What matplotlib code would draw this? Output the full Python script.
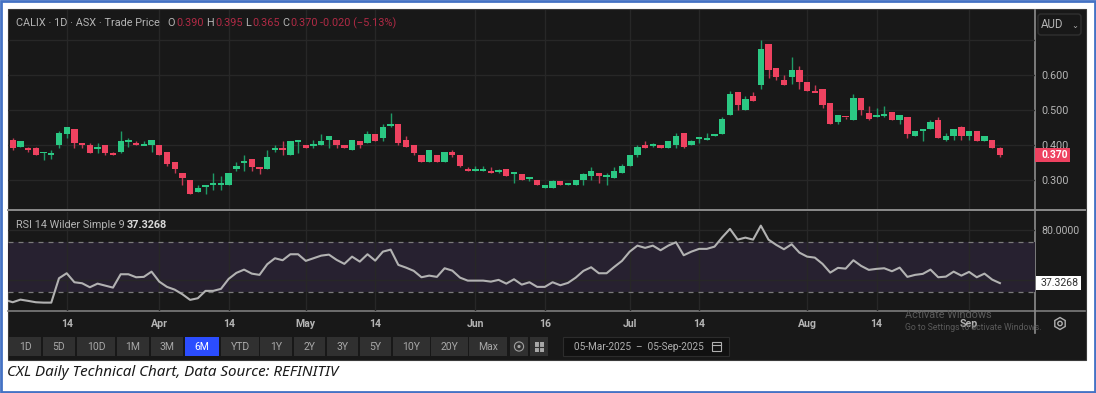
import numpy as np
import matplotlib
matplotlib.use("Agg")
import matplotlib.pyplot as plt
from matplotlib.patches import Rectangle, FancyBboxPatch, Circle, RegularPolygon

# daily candles
opens = [.415,.395,.39,.39,.375,.37,.40,.43,.445,.405,.40,.39,.40,.375,.38,.41,.4025,.40,.40,.40,
         .38,.35,.32,.30,.265,.28,.285,.285,.285,.33,.35,.36,.335,.33,.385,.39,.37,.41,.40,.40,
         .40,.415,.415,.40,.385,.41,.405,.43,.42,.455,.46,.415,.40,.37,.35,.37,.35,.38,.37,.33,
         .325,.325,.325,.325,.33,.32,.315,.305,.30,.275,.275,.295,.285,.285,.30,.31,.32,.31,.305,.32,
         .34,.37,.40,.40,.40,.39,.40,.435,.40,.42,.415,.425,.43,.485,.55,.50,.54,.57,.69,.62,
         .585,.595,.615,.58,.5525,.56,.52,.465,.4825,.47,.535,.49,.48,.485,.495,.47,.48,.425,.44,.445,
         .47,.415,.425,.45,.425,.44,.41,.415,.39]
closes = [.39,.41,.385,.37,.38,.375,.435,.45,.405,.40,.375,.39,.375,.37,.41,.41,.40,.40,.415,.37,
          .345,.33,.305,.26,.275,.285,.29,.29,.32,.34,.35,.335,.33,.365,.39,.385,.41,.41,.39,.40,
          .41,.425,.40,.39,.415,.40,.43,.41,.45,.46,.405,.395,.375,.35,.385,.35,.38,.37,.34,.325,
          .33,.33,.32,.325,.31,.32,.30,.305,.285,.285,.295,.285,.29,.30,.315,.325,.31,.31,.325,.34,
          .37,.395,.39,.40,.39,.41,.425,.395,.41,.42,.42,.43,.475,.545,.515,.53,.525,.675,.615,.595,
          .57,.615,.58,.555,.55,.515,.46,.485,.48,.535,.50,.475,.485,.485,.47,.485,.43,.44,.445,.465,
          .42,.425,.445,.425,.44,.41,.425,.39,.37]
highs = [.42,.41,.395,.395,.38,.385,.44,.45,.445,.405,.405,.405,.40,.38,.44,.42,.41,.41,.415,.40,
         .38,.35,.32,.30,.285,.285,.32,.31,.32,.35,.37,.36,.335,.385,.40,.41,.41,.41,.40,.415,
         .43,.425,.415,.40,.415,.41,.44,.43,.46,.49,.46,.425,.40,.37,.385,.37,.38,.385,.37,.335,
         .34,.34,.335,.33,.33,.32,.315,.305,.30,.285,.30,.295,.29,.30,.32,.335,.32,.32,.335,.345,
         .37,.40,.41,.405,.40,.41,.435,.435,.415,.42,.435,.43,.48,.555,.55,.54,.55,.70,.69,.62,
         .60,.65,.625,.58,.57,.56,.52,.485,.48,.545,.535,.51,.505,.51,.495,.485,.48,.44,.445,.47,
         .48,.435,.445,.455,.44,.44,.425,.415,.395]
lows = [.385,.395,.38,.37,.355,.36,.39,.42,.39,.39,.375,.375,.37,.37,.375,.395,.40,.40,.38,.37,
        .34,.32,.285,.26,.265,.26,.27,.27,.285,.325,.325,.325,.315,.33,.38,.37,.37,.375,.39,.39,
        .40,.39,.39,.39,.385,.39,.405,.41,.41,.45,.40,.395,.37,.35,.35,.35,.35,.365,.335,.325,
        .325,.325,.32,.32,.31,.29,.30,.295,.285,.275,.275,.285,.285,.285,.285,.30,.29,.285,.305,.32,
        .34,.365,.39,.395,.39,.39,.39,.39,.40,.405,.415,.425,.43,.485,.50,.50,.525,.56,.59,.585,
        .57,.575,.56,.555,.55,.505,.46,.46,.475,.47,.485,.47,.48,.48,.47,.46,.42,.425,.41,.445,
        .42,.41,.415,.415,.415,.41,.41,.39,.365]

# first value sits just off the first candle, line runs in from the left edge
rsi = [23.9,22,24.1,23.1,22,21.7,21.7,41.2,45.2,38,37.2,34,36.9,35.3,33.7,44.4,44.4,42,42.3,46.5,
       38.5,34.3,32.1,28.4,23.9,25.2,31.1,31.1,32.7,40.7,45.5,48.1,44.9,43.9,52.4,57.2,55.6,60.4,60.4,55.1,
       57.2,59.3,60.1,55.9,52.7,58.5,54.5,60.4,55.3,62.5,64.1,51.9,49.7,47.1,42,43.3,42.3,49.2,47.3,41.7,
       39.3,39.3,39.3,38.5,39.9,36.9,40.4,36.1,38,34.3,34.3,38,35.6,37.5,41.7,47.1,50,45.2,45.2,50.3,
       55.1,62.5,67.3,65.5,67.3,63.6,67.3,70,59.6,62.5,64.7,64.7,66.5,74,80.7,72.1,73.7,72.1,83.3,72.1,
       67.9,64.4,68.4,61.7,58.5,57.7,52.7,45.7,49.5,48.9,55.6,51.1,47.9,48.7,49.2,46.8,49.7,42.3,43.9,44.7,
       48.1,42,42.5,46.5,43.3,46.3,42,44.9,40.1,37.3]

tick_idx = [7, 19, 28, 38, 47, 60, 69, 80, 89, 103, 112, 124]
tick_labels = ["14", "Apr", "14", "May", "14", "Jun", "16", "Jul", "14", "Aug", "14", "Sep"]
price_ticks = [0.3, 0.4, 0.5, 0.6, 0.7]
price_tick_labels = ["0.300", "0.400", "0.500", "0.600", ""]
range_buttons = ["1D", "5D", "10D", "1M", "3M", "6M", "YTD", "1Y", "2Y", "3Y", "5Y", "10Y", "20Y", "Max"]

GREEN = "#2bc883"
RED = "#ee4260"
PANEL = "#181818"
GRID = "#272727"
TXT = "#b4b4b4"
W, H = 1096, 393

plt.rcParams["font.family"] = ["Roboto", "DejaVu Sans"]


def rect_axes(fig, x0, y0, x1, y1, **kw):
    # pixel box (y down) to figure fraction
    return fig.add_axes([x0 / W, 1 - y1 / H, (x1 - x0) / W, (y1 - y0) / H], **kw)


def px_text(fig, x, y, s, **kw):
    # text above every axes, placed in pixels
    return fig.text(x / W, 1 - y / H, s, va="center", zorder=5, **kw)


def main():
    assert len(opens) == len(closes) == len(highs) == len(lows) == len(rsi) - 1

    fig = plt.figure(figsize=(W / 100, H / 100), dpi=100, facecolor="white")

    # page chrome, in pixel coordinates
    bg = fig.add_axes([0, 0, 1, 1], zorder=0)
    bg.set_xlim(0, W)
    bg.set_ylim(H, 0)
    bg.axis("off")
    bg.add_patch(Rectangle((1, 1), W - 2, H - 2, fill=False, ec="#4472c4", lw=2))
    bg.add_patch(Rectangle((7.5, 8.5), 1078, 351, fc=PANEL, ec="#3a3a3a", lw=0.8))
    bg.plot([8, 1085], [210, 210], color="#8c8c8c", lw=1.4)
    bg.plot([8, 1085], [311, 311], color="#7c7c7c", lw=1.2)
    bg.plot([1035, 1035], [10, 333], color="#8c8c8c", lw=1.2)

    spans = [(9, 41), (43, 75), (77, 115), (117, 149), (151, 183), (185, 219), (221, 259),
             (260, 292), (294, 325), (327, 358), (360, 391), (393, 430), (431, 468), (469, 507)]
    for name, (a, b) in zip(range_buttons, spans):
        on = name == "6M"
        bg.add_patch(Rectangle((a, 337), b - a, 18.5, fc="#2b4dff" if on else "#303030", ec="none"))
        bg.text((a + b) / 2, 346.5, name, ha="center", va="center", fontsize=7.5,
                color="white" if on else "#a8a8a8")
    for a, b in [(510, 528), (530, 548)]:
        bg.add_patch(Rectangle((a, 337), b - a, 18.5, fc="#303030", ec="none"))
    bg.add_patch(Circle((519, 346.5), 4.6, fill=False, ec="#a0a0a0", lw=0.8))
    bg.add_patch(Circle((519, 346.5), 1.6, fc="#a0a0a0", ec="none"))
    bg.add_patch(Rectangle((534.5, 342), 9, 9.5, fc="#a8a8a8", ec="none"))
    bg.plot([539, 539], [342, 351.5], color="#303030", lw=0.8)
    bg.plot([534.5, 543.5], [346.7, 346.7], color="#303030", lw=0.8)

    bg.add_patch(Rectangle((563, 337), 166, 19, fc="#111111", ec="#2c2c2c", lw=0.8))
    bg.text(639, 346.5, "05-Mar-2025  –  05-Sep-2025", ha="center", va="center", fontsize=7.2, color="#b0b0b0")
    bg.add_patch(Rectangle((711.5, 342), 9, 9, fill=False, ec="#b0b0b0", lw=0.8))
    bg.plot([711.5, 720.5], [344.5, 344.5], color="#b0b0b0", lw=0.8)

    bg.add_patch(FancyBboxPatch((1038, 14), 43, 21, boxstyle="round,pad=0,rounding_size=3",
                                fc=PANEL, ec="#303030", lw=1))
    bg.text(1041, 24.5, "AUD", va="center", fontsize=8.3, color=TXT)
    bg.text(1075, 25.5, "⌄", ha="center", va="center", fontsize=6, color=TXT, family="DejaVu Sans")
    bg.add_patch(RegularPolygon((1060, 323.5), 6, radius=6, fill=False, ec="#b0b0b0", lw=1))
    bg.add_patch(Circle((1060, 323.5), 2.2, fill=False, ec="#b0b0b0", lw=1))

    bg.text(7, 372, "CXL Daily Technical Chart, Data Source: REFINITIV", va="center", fontsize=10.9,
            style="italic", color="#1a1a1a", family="Noto Sans")

    # price panel
    x = np.arange(len(opens))
    o, c, h, l = map(np.array, (opens, closes, highs, lows))
    up = c >= o
    colors = np.where(up, GREEN, RED)
    ax = rect_axes(fig, 8, 10, 1035, 209, zorder=2)
    ax.patch.set_alpha(0)
    ax.vlines(x, l, h, colors=np.where(up, "#1f9a66", "#c23a55"), lw=1)
    heights = np.maximum(np.abs(c - o), 0.005)
    bottoms = (o + c) / 2 - heights / 2
    ax.bar(x, heights, bottom=bottoms, width=0.82, color=colors, linewidth=0, zorder=3)
    ax.set_xlim(-0.61, 132.55)
    ax.set_ylim(0.216, 0.786)
    ax.set_xticks(tick_idx)
    ax.set_xticklabels([])
    ax.set_yticks(price_ticks)
    ax.set_yticklabels(price_tick_labels)
    ax.yaxis.tick_right()
    ax.tick_params(axis="both", length=0, colors=TXT, labelsize=7.8, pad=4.5)
    ax.grid(True, color=GRID, lw=1)
    ax.set_axisbelow(True)
    for s in ax.spines.values():
        s.set_visible(False)

    px_text(fig, 16, 23, "CALIX · 1D · ASX · Trade Price", fontsize=7.8, color=TXT)
    parts = [("O", TXT, 167), ("0.390", "#b02a45", 176), ("H", TXT, 206), ("0.395", "#b02a45", 215),
             ("L", TXT, 245), ("0.365", "#b02a45", 252), ("C", TXT, 282), ("0.370", "#b02a45", 290),
             ("-0.020 (−5.13%)", "#b02a45", 320)]
    for s, col, px in parts:
        px_text(fig, px, 23, s, fontsize=7.8, color=col)

    ax.add_patch(Rectangle((1.0, closes[-1] - 0.02), 35 / 1027, 0.04, transform=ax.get_yaxis_transform(),
                           fc=RED, ec="none", clip_on=False, zorder=5))
    ax.annotate("0.370", (1.0, closes[-1]), xycoords=ax.get_yaxis_transform(), xytext=(6, 0),
                textcoords="offset pixels", va="center", ha="left", fontsize=7.4,
                color="white", fontweight="bold", annotation_clip=False, zorder=6)

    # RSI panel
    ax2 = rect_axes(fig, 8, 212, 1035, 311, zorder=2)
    ax2.patch.set_alpha(0)
    ax2.axhspan(30, 70, color="#272130", lw=0, zorder=0)
    ax2.axhline(70, color="#7a7a7a", lw=0.9, ls=(0, (4, 4)), zorder=2)
    ax2.axhline(30, color="#7a7a7a", lw=0.9, ls=(0, (4, 4)), zorder=2)
    ax2.plot(np.arange(len(rsi)) - 1, rsi, color="#b2b2b2", lw=1.5, zorder=3)
    ax2.set_xlim(-0.61, 132.55)
    ax2.set_ylim(15.0, 94.2)
    ax2.set_xticks(tick_idx)
    ax2.set_xticklabels(tick_labels, fontweight="bold")
    ax2.set_yticks([40, 80])
    ax2.set_yticklabels(["", "80.0000"])
    ax2.yaxis.tick_right()
    ax2.tick_params(axis="both", length=0, colors=TXT, labelsize=7.6)
    ax2.tick_params(axis="y", pad=4.5)
    ax2.tick_params(axis="x", pad=6)
    ax2.grid(True, color=GRID, lw=1, zorder=1)
    ax2.set_axisbelow(True)
    for s in ax2.spines.values():
        s.set_visible(False)
    bg.add_patch(Rectangle((1035.5, 276), 45.5, 14, fc="white", ec="none", zorder=1))
    ax2.annotate("37.3268", (1.0, rsi[-1]), xycoords=ax2.get_yaxis_transform(), xytext=(6, 0),
                 textcoords="offset pixels", va="center", ha="left", fontsize=7.6,
                 color="#333333", annotation_clip=False, zorder=6)
    px_text(fig, 16, 224.5, "RSI 14 Wilder Simple 9", fontsize=7.8, color=TXT)
    px_text(fig, 127, 224.5, "37.3268", fontsize=7.8, color="#d8d8d8", fontweight="bold")

    # windows watermark
    px_text(fig, 905, 315, "Activate Windows", fontsize=7.8, color="#5a5a5a")
    px_text(fig, 905, 327.5, "Go to Settings to activate Windows.", fontsize=6.2, color="#5a5a5a")

    plt.savefig("out.png", dpi=100)
    plt.close()


if __name__ == "__main__":
    main()
